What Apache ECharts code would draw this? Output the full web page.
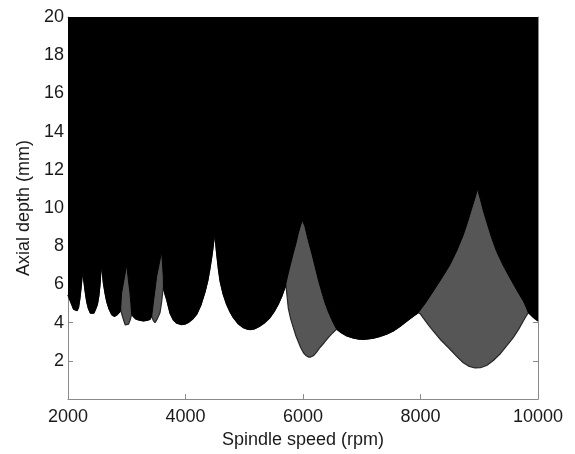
<!DOCTYPE html>
<html>
<head>
<meta charset="utf-8">
<script src="https://cdn.jsdelivr.net/npm/echarts@6/dist/echarts.min.js"></script>
<style>
html,body{margin:0;padding:0;background:#fff;}
#chart{width:575px;height:454px;}
</style>
</head>
<body>
<div id="chart"></div>
<script>
// Tick labels
const xTicks = [2000, 4000, 6000, 8000, 10000];
const yTicks = [2, 4, 6, 8, 10, 12, 14, 16, 18, 20];

// Stability boundary (lower edge of the non-white region): spindle speed (rpm) / axial depth (mm)
const stabSpeed = [2000,2030,2063,2095,2125,2155,2180,2204,2225,2240,2250,2265,2289,2318,2346,2380,2410,2440,2470,2500,2525,2545,2560,2568,2585,2601,2630,2659,2700,2744,2790,2840,2880,2896,2920,2950,2975,3000,3030,3060,3084,3110,3150,3200,3282,3340,3396,3424,3450,3481,3520,3566,3590,3611,3625,3650,3680,3736,3790,3850,3935,4000,4060,4120,4190,4260,4332,4380,4420,4450,4475,4495,4515,4531,4560,4590,4640,4700,4760,4814,4900,4984,5050,5100,5180,5268,5350,5438,5510,5580,5640,5694,5708,5725,5750,5790,5835,5880,5920,5960,6005,6050,6091,6130,6176,6230,6289,6360,6431,6500,6573,6600,6650,6743,6850,6950,7030,7110,7200,7300,7424,7540,7651,7765,7877,7962,8000,8077,8150,8218,8350,8502,8620,8728,8830,8927,9020,9126,9240,9353,9470,9579,9670,9750,9800,9835,9880,9920,10000];
const stabDepth = [5.45,5.2,4.95,4.7,4.6,4.63,4.8,5.3,5.9,6.4,6.77,6.3,5.7,5.1,4.75,4.5,4.43,4.5,4.7,4.95,5.4,5.99,6.7,7.1,6.6,6.1,5.55,5.1,4.7,4.42,4.33,4.42,4.55,4.69,4.4,4.1,3.88,3.8,3.92,4.15,4.45,4.32,4.2,4.14,4.09,4.12,4.17,4.35,4.12,4.0,4.2,4.52,5.0,5.56,5.85,5.5,5.2,4.5,4.15,3.97,3.9,3.93,4.03,4.18,4.43,4.9,5.6,6.2,6.9,7.5,8.1,8.68,8.1,7.6,6.8,6.15,5.5,4.95,4.55,4.26,3.93,3.74,3.66,3.64,3.68,3.82,4.0,4.26,4.58,4.97,5.38,5.85,6.02,5.5,4.75,4.2,3.74,3.3,3.0,2.7,2.44,2.28,2.2,2.2,2.27,2.45,2.7,2.95,3.22,3.45,3.66,3.6,3.47,3.31,3.2,3.14,3.13,3.15,3.19,3.27,3.4,3.57,3.8,4.07,4.33,4.52,4.45,4.12,3.82,3.56,3.08,2.61,2.22,1.9,1.71,1.63,1.64,1.76,2.02,2.36,2.8,3.22,3.65,4.09,4.35,4.52,4.4,4.27,4.09];

// Lower edge of the black (unstable) region
const blackSpeed = [2000,2030,2063,2095,2125,2155,2180,2204,2225,2240,2250,2265,2289,2318,2346,2380,2410,2440,2470,2500,2525,2545,2560,2568,2585,2601,2630,2659,2700,2744,2790,2840,2880,2896,2905,2913,2950,2985,3000,3015,3027,3055,3070,3084,3110,3150,3200,3282,3340,3396,3424,3440,3452,3480,3509,3550,3594,3610,3622,3625,3650,3680,3736,3790,3850,3935,4000,4060,4120,4190,4260,4332,4380,4420,4450,4475,4495,4515,4531,4560,4590,4640,4700,4760,4814,4900,4984,5050,5100,5180,5268,5350,5438,5510,5580,5640,5694,5711,5750,5790,5835,5880,5920,5955,5988,6034,6090,6148,6200,6260,6320,6374,6430,6488,6530,6573,6600,6650,6743,6850,6950,7030,7110,7200,7300,7424,7540,7651,7765,7877,7962,8090,8218,8360,8502,8620,8728,8800,8871,8930,8970,9020,9070,9126,9210,9296,9410,9523,9640,9750,9800,9835,9880,9920,10000];
const blackDepth = [5.45,5.2,4.95,4.7,4.6,4.63,4.8,5.3,5.9,6.4,6.77,6.3,5.7,5.1,4.75,4.5,4.43,4.5,4.7,4.95,5.4,5.99,6.7,7.1,6.6,6.1,5.55,5.1,4.7,4.42,4.33,4.42,4.55,4.69,5.2,5.56,6.2,6.8,7.0,6.6,6.25,5.56,5.0,4.45,4.32,4.2,4.14,4.09,4.12,4.17,4.35,4.7,5.04,5.7,6.42,7.05,7.72,7.0,6.42,5.85,5.5,5.2,4.5,4.15,3.97,3.9,3.93,4.03,4.18,4.43,4.9,5.6,6.2,6.9,7.5,8.1,8.68,8.1,7.6,6.8,6.15,5.5,4.95,4.55,4.26,3.93,3.74,3.66,3.64,3.68,3.82,4.0,4.26,4.58,4.97,5.38,5.85,6.08,6.6,7.1,7.64,8.15,8.68,9.05,9.37,9.02,8.3,7.64,7.0,6.25,5.6,5.04,4.58,4.17,3.9,3.66,3.6,3.47,3.31,3.2,3.14,3.13,3.15,3.19,3.27,3.4,3.57,3.8,4.07,4.33,4.52,5.05,5.65,6.32,7.03,7.78,8.59,9.25,9.97,10.55,11.0,10.45,9.85,9.28,8.45,7.72,6.98,6.34,5.7,5.13,4.8,4.52,4.4,4.27,4.09];

const toPairs = (xs, ys) => xs.map((x, i) => [x, ys[i]]);

const chart = echarts.init(document.getElementById('chart'), null, {renderer: 'canvas'});
const axisColor = '#8a8a8a';
const font = '"Liberation Sans", Arial, sans-serif';

const xCommon = {
  type: 'value', min: xTicks[0], max: xTicks[xTicks.length - 1],
  interval: xTicks[1] - xTicks[0],
  splitLine: {show: false},
  axisLine: {show: true, onZero: false, lineStyle: {color: axisColor, width: 1}},
  axisTick: {show: true, inside: true, length: 5, lineStyle: {color: axisColor}}
};
const yCommon = {
  type: 'value', min: 0, max: yTicks[yTicks.length - 1],
  interval: yTicks[1] - yTicks[0],
  splitLine: {show: false},
  axisLine: {show: true, onZero: false, lineStyle: {color: axisColor, width: 1}},
  axisTick: {show: true, inside: true, length: 5, lineStyle: {color: axisColor}}
};

chart.setOption({
  animation: false,
  backgroundColor: '#ffffff',
  grid: {left: 68, top: 17, width: 470, height: 385, containLabel: false},
  xAxis: [
    Object.assign({}, xCommon, {
      position: 'bottom',
      name: 'Spindle speed (rpm)', nameLocation: 'middle', nameGap: 27,
      nameTextStyle: {fontFamily: font, fontSize: 18, color: '#1a1a1a'},
      axisLabel: {show: true, margin: 9, fontFamily: font, fontSize: 18, color: '#1a1a1a',
        formatter: v => xTicks.includes(v) ? String(v) : ''}
    }),
    Object.assign({}, xCommon, {position: 'top', axisLabel: {show: false}})
  ],
  yAxis: [
    Object.assign({}, yCommon, {
      position: 'left',
      name: 'Axial depth (mm)', nameLocation: 'middle', nameGap: 33,
      nameTextStyle: {fontFamily: font, fontSize: 18, color: '#1a1a1a'},
      axisLabel: {show: true, margin: 4, fontFamily: font, fontSize: 18, color: '#1a1a1a',
        formatter: v => yTicks.includes(v) ? String(v) : ''}
    }),
    Object.assign({}, yCommon, {position: 'right', axisLabel: {show: false}})
  ],
  series: [
    {
      type: 'line', xAxisIndex: 0, yAxisIndex: 0,
      data: toPairs(stabSpeed, stabDepth),
      showSymbol: false, symbol: 'none', smooth: false, z: 2,
      lineStyle: {color: '#262626', width: 1.2},
      areaStyle: {color: '#565656', opacity: 1, origin: 'end'}
    },
    {
      type: 'line', xAxisIndex: 0, yAxisIndex: 0,
      data: toPairs(blackSpeed, blackDepth),
      showSymbol: false, symbol: 'none', smooth: false, z: 3,
      lineStyle: {color: '#000000', width: 1},
      areaStyle: {color: '#000000', opacity: 1, origin: 'end'}
    }
  ]
});
</script>
</body>
</html>
